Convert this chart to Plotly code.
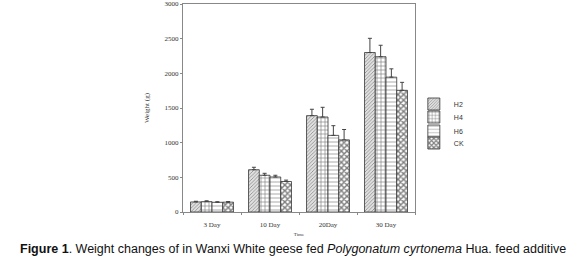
import plotly.graph_objects as go

categories = ["3 Day", "10 Day", "20Day", "30 Day"]
series_names = ["H2", "H4", "H6", "CK"]
H2 = [145, 610, 1390, 2300]
H4 = [150, 530, 1370, 2240]
H6 = [140, 505, 1105, 1945]
CK = [142, 440, 1040, 1755]
H2_err = [10, 35, 92, 205]
H4_err = [12, 28, 140, 165]
H6_err = [8, 25, 140, 120]
CK_err = [8, 20, 150, 115]

values = [H2, H4, H6, CK]
errors = [H2_err, H4_err, H6_err, CK_err]
patterns = [
    dict(shape="/", size=2.5, solidity=0.35, fgcolor="#444444", bgcolor="#e0e0e0"),
    dict(shape="+", size=4, solidity=0.3, fgcolor="#000000", bgcolor="white"),
    dict(shape="-", size=4, solidity=0.25, fgcolor="#555555", bgcolor="white"),
    dict(shape="x", size=4, solidity=0.6, fgcolor="#000000", bgcolor="white"),
]
legend_ids = ["legend", "legend2", "legend3", "legend4"]
legend_centres = [104, 117, 131, 143]  # pixel centres of legend entries

fig = go.Figure()
for name, v, e, p, lid in zip(series_names, values, errors, patterns, legend_ids):
    fig.add_trace(go.Bar(
        x=categories, y=v, name=name, legend=lid,
        marker=dict(color="white", pattern=p, line=dict(color="#333333", width=0.8)),
        error_y=dict(type="data", array=e, arrayminus=[0]*len(e), symmetric=False,
                     color="#444444", thickness=1, width=2),
    ))

plot_top, plot_bottom = 4, 212
legend_layout = {}
for lid, yc in zip(legend_ids, legend_centres):
    legend_layout[lid] = dict(
        x=0.995, y=(plot_bottom - yc) / (plot_bottom - plot_top),
        xanchor="left", yanchor="middle", bgcolor="rgba(0,0,0,0)",
        font=dict(family="Liberation Sans", size=7, color="#333333"),
        itemwidth=30, tracegroupgap=0,
    )

fig.update_layout(
    width=580, height=262,
    margin=dict(l=183, r=165, t=plot_top, b=262 - plot_bottom, autoexpand=False),
    paper_bgcolor="white", plot_bgcolor="white",
    barmode="group", bargap=0.26, bargroupgap=0,
    showlegend=True,
    font=dict(family="Liberation Serif", size=7, color="#333333"),
    **legend_layout,
)
fig.update_yaxes(range=[0, 3000], dtick=500, showgrid=False, zeroline=False, automargin=False,
                 showline=True, linecolor="#888888", linewidth=1, mirror=True,
                 ticks="outside", ticklen=2, tickcolor="#888888",
                 tickfont=dict(family="Liberation Serif", size=7, color="#333333"),
                 title=dict(text="Weight (g)", standoff=14,
                            font=dict(family="Liberation Serif", size=7, color="#333333")))
fig.update_xaxes(showgrid=False, showline=True, linecolor="#888888", linewidth=1, mirror=True,
                 automargin=False, ticks="outside", tickson="boundaries", ticklen=2,
                 tickcolor="#888888", ticklabelstandoff=6,
                 tickfont=dict(family="Liberation Serif", size=7, color="#333333"),
                 title=dict(text="Time", standoff=4,
                            font=dict(family="Liberation Serif", size=5, color="#333333")))

fig.add_annotation(
    text="<b>Figure 1</b>. Weight changes of in Wanxi White geese fed <i>Polygonatum cyrtonema</i> Hua. feed additive",
    xref="paper", yref="paper", x=0.5, y=0, xanchor="center", yanchor="middle",
    xshift=(18 + 567) / 2 - (183 + 415) / 2, yshift=-37,
    showarrow=False, font=dict(family="Liberation Sans", size=12.5, color="#111111"),
)

fig.write_html("out.html", config={"displayModeBar": False},
               post_script="document.body.style.margin='0';document.body.style.overflow='hidden';")
